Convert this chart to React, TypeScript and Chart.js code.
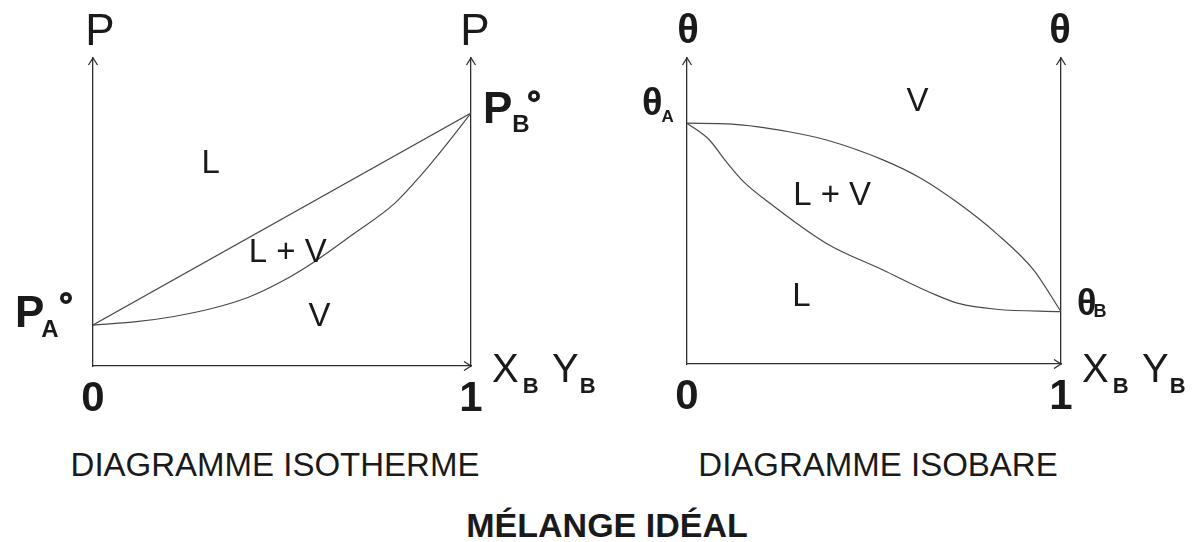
import React, { useEffect, useRef } from "react";
import { Chart, registerables } from "chart.js";

Chart.register(...registerables);

const FONT = '"Liberation Sans", Arial, Helvetica, sans-serif';
const INK = "#1a1a1a";
const AXIS = "#2e2e2e";
const CURVE = "#4a4a4a";

// Composition axis ticks (mole fraction of B)
const xTicks = [0, 1];

// Isothermal diagram: pressure against composition (arbitrary units, axis 0–100)
const PA = 13.3;
const PB = 82.1;
const bubbleX = [0, 1];
const bubbleP = [PA, PB];
const dewX = [0, 0.109, 0.21, 0.322, 0.413, 0.5, 0.585, 0.686, 0.798, 0.868, 0.929, 1];
const dewP = [PA, 14.3, 16.0, 18.9, 22.4, 27.5, 33.8, 42.6, 52.8, 62.0, 71.0, PB];
const isoThermRegions = [
  { text: "L", x: 0.311, y: 66.4 },
  { text: "L + V", x: 0.515, y: 37.8 },
  { text: "V", x: 0.599, y: 17.0 },
];

// Isobaric diagram: temperature against composition (arbitrary units, axis 0–100)
const TA = 78.7;
const TB = 17.1;
const vapourX = [0, 0.121, 0.272, 0.373, 0.524, 0.625, 0.726, 0.827, 0.927, 1];
const vapourT = [TA, 78.4, 75.9, 73.2, 66.7, 60.7, 52.5, 42.7, 30.7, TB];
const liquidX = [0, 0.06, 0.101, 0.151, 0.222, 0.373, 0.524, 0.655, 0.726, 0.827, 1];
const liquidT = [TA, 73.2, 66.7, 59.6, 52.5, 39.4, 30.7, 23.1, 19.8, 17.9, TB];
const isoBarRegions = [
  { text: "V", x: 0.616, y: 86.6 },
  { text: "L + V", x: 0.388, y: 56.0 },
  { text: "L", x: 0.306, y: 23.0 },
];

type Region = { text: string; x: number; y: number };
type Area = { left: number; right: number; top: number; bottom: number };
type Decor = (ctx: CanvasRenderingContext2D, chart: Chart) => void;

function curve(xs: number[], ys: number[]) {
  return {
    data: xs.map((x, i) => ({ x, y: ys[i] })),
    borderColor: CURVE,
    borderWidth: 1.2,
    pointRadius: 0,
    fill: false,
    cubicInterpolationMode: "monotone" as const,
  };
}

function arrowUp(ctx: CanvasRenderingContext2D, x: number, y: number) {
  ctx.beginPath();
  ctx.moveTo(x - 4.5, y + 7);
  ctx.lineTo(x, y);
  ctx.lineTo(x + 4.5, y + 7);
  ctx.stroke();
}

function arrowRight(ctx: CanvasRenderingContext2D, x: number, y: number) {
  ctx.beginPath();
  ctx.moveTo(x - 7, y - 4.5);
  ctx.lineTo(x, y);
  ctx.lineTo(x - 7, y + 4.5);
  ctx.stroke();
}

// Symbol with a subscript; returns the x where the subscript ends
function subLabel(
  ctx: CanvasRenderingContext2D,
  x: number,
  base: number,
  main: string,
  mainFont: string,
  sub: string,
  subFont: string,
  gap: number,
  drop: number
) {
  ctx.textAlign = "left";
  ctx.textBaseline = "alphabetic";
  ctx.font = mainFont;
  ctx.fillText(main, x, base);
  const sx = x + ctx.measureText(main).width + gap;
  ctx.font = subFont;
  ctx.fillText(sub, sx, base + drop);
  return sx + ctx.measureText(sub).width;
}

function degree(ctx: CanvasRenderingContext2D, x: number, y: number) {
  ctx.save();
  ctx.strokeStyle = INK;
  ctx.lineWidth = 3.6;
  ctx.beginPath();
  ctx.arc(x, y, 4.2, 0, Math.PI * 2);
  ctx.stroke();
  ctx.restore();
}

function compositionLabel(ctx: CanvasRenderingContext2D, x: number, base: number) {
  const big = `40px ${FONT}`;
  const small = `bold 22px ${FONT}`;
  subLabel(ctx, x, base, "X", big, "B", small, 4, 11);
  subLabel(ctx, x + 60, base, "Y", big, "B", small, 1, 11);
}

function regions(ctx: CanvasRenderingContext2D, chart: Chart, items: Region[]) {
  const xs = chart.scales.x;
  const ys = chart.scales.y;
  ctx.font = `33px ${FONT}`;
  ctx.textAlign = "center";
  ctx.textBaseline = "alphabetic";
  for (const r of items) {
    ctx.fillText(r.text, xs.getPixelForValue(r.x), ys.getPixelForValue(r.y) + 12);
  }
}

const isoThermDecor: Decor = (ctx, chart) => {
  const { left, right, top, bottom } = chart.chartArea;
  const ys = chart.scales.y;
  ctx.font = `44px ${FONT}`;
  ctx.textAlign = "center";
  ctx.textBaseline = "alphabetic";
  ctx.fillText("P", left + 7, top - 13);
  ctx.fillText("P", right + 4, top - 13);

  const yA = ys.getPixelForValue(PA);
  const yB = ys.getPixelForValue(PB);
  const bold44 = `bold 44px ${FONT}`;
  const bold24 = `bold 24px ${FONT}`;
  subLabel(ctx, left - 78, yA + 2, "P", bold44, "A", bold24, -3, 10);
  degree(ctx, left - 27, yA - 27);
  subLabel(ctx, right + 12, yB + 10, "P", bold44, "B", bold24, 0, 9);
  degree(ctx, right + 63, yB - 17);

  compositionLabel(ctx, right + 21, bottom + 16);
  regions(ctx, chart, isoThermRegions);
};

const isoBarDecor: Decor = (ctx, chart) => {
  const { left, right, top, bottom } = chart.chartArea;
  const ys = chart.scales.y;
  ctx.font = `bold 40px ${FONT}`;
  ctx.textAlign = "center";
  ctx.textBaseline = "alphabetic";
  ctx.fillText("θ", left + 1, top - 15);
  ctx.fillText("θ", right - 1, top - 15);

  const yA = ys.getPixelForValue(TA);
  const yB = ys.getPixelForValue(TB);
  subLabel(ctx, left - 45, yA - 8, "θ", `bold 38px ${FONT}`, "A", `bold 17px ${FONT}`, -1, 7);
  subLabel(ctx, right + 16, yB + 3, "θ", `bold 36px ${FONT}`, "B", `bold 18px ${FONT}`, -3, 2);

  compositionLabel(ctx, right + 21, bottom + 18);
  regions(ctx, chart, isoBarRegions);
};

function Diagram(props: {
  offset: number;
  width: number;
  height: number;
  area: Area;
  datasets: any[];
  decor: Decor;
}) {
  const ref = useRef<HTMLCanvasElement>(null);
  const { offset, width, height, area, datasets, decor } = props;

  useEffect(() => {
    const canvas = ref.current;
    if (!canvas) return;
    const decorPlugin = {
      id: "diagramDecor",
      afterDraw(chart: Chart) {
        const ctx = chart.ctx;
        const { left, right, top, bottom } = chart.chartArea;
        ctx.save();
        ctx.strokeStyle = AXIS;
        ctx.lineWidth = 1.3;
        arrowUp(ctx, left, top);
        arrowUp(ctx, right, top);
        arrowRight(ctx, right, bottom);
        ctx.fillStyle = INK;
        decor(ctx, chart);
        ctx.restore();
      },
    };
    const hiddenAxis = (position: "left" | "right") => ({
      type: "linear" as const,
      position,
      min: 0,
      max: 100,
      afterFit: (s: any) => {
        s.width = 0;
      },
      grid: { display: false, drawTicks: false },
      border: { display: true, color: AXIS, width: 1.3 },
      ticks: { display: false },
    });
    const chart = new Chart(canvas, {
      type: "line",
      data: { datasets },
      options: {
        responsive: false,
        animation: false,
        devicePixelRatio: 1,
        events: [],
        layout: {
          padding: { left: area.left, right: width - area.right, top: area.top, bottom: 0 },
        },
        plugins: { legend: { display: false }, tooltip: { enabled: false } },
        scales: {
          x: {
            type: "linear",
            min: 0,
            max: 1,
            afterFit: (s: any) => {
              s.height = height - area.bottom;
            },
            afterBuildTicks: (s: any) => {
              s.ticks = xTicks.map((v) => ({ value: v }));
            },
            grid: { display: false, drawTicks: false },
            border: { display: true, color: AXIS, width: 1.3 },
            ticks: {
              font: { family: FONT, size: 42, weight: "bold" },
              color: INK,
              padding: 8,
              maxRotation: 0,
              autoSkip: false,
              callback: (v: any) => String(v),
            },
          },
          y: hiddenAxis("left"),
          y2: hiddenAxis("right"),
        },
      } as any,
      plugins: [decorPlugin],
    });
    return () => chart.destroy();
  }, []);

  return (
    <canvas
      ref={ref}
      width={width}
      height={height}
      style={{ position: "absolute", left: offset, top: 0, width, height, display: "block" }}
    />
  );
}

const titleStyle: React.CSSProperties = {
  position: "absolute",
  fontFamily: FONT,
  fontSize: 33,
  lineHeight: 1,
  color: INK,
  whiteSpace: "nowrap",
  transform: "translateX(-50%)",
};

export default function App() {
  return (
    <div
      style={{
        position: "absolute",
        left: 0,
        top: 0,
        width: 1192,
        height: 542,
        background: "#fff",
        overflow: "hidden",
      }}
    >
      <Diagram
        offset={0}
        width={596}
        height={430}
        area={{ left: 93, right: 471, top: 58, bottom: 366 }}
        datasets={[curve(bubbleX, bubbleP), curve(dewX, dewP)]}
        decor={isoThermDecor}
      />
      <Diagram
        offset={596}
        width={596}
        height={430}
        area={{ left: 91, right: 465, top: 58, bottom: 364 }}
        datasets={[curve(vapourX, vapourT), curve(liquidX, liquidT)]}
        decor={isoBarDecor}
      />
      <div style={{ ...titleStyle, left: 275, top: 448 }}>DIAGRAMME ISOTHERME</div>
      <div style={{ ...titleStyle, left: 878, top: 448 }}>DIAGRAMME ISOBARE</div>
      <div style={{ ...titleStyle, left: 607, top: 508, fontSize: 34, fontWeight: "bold" }}>
        MÉLANGE IDÉAL
      </div>
    </div>
  );
}
